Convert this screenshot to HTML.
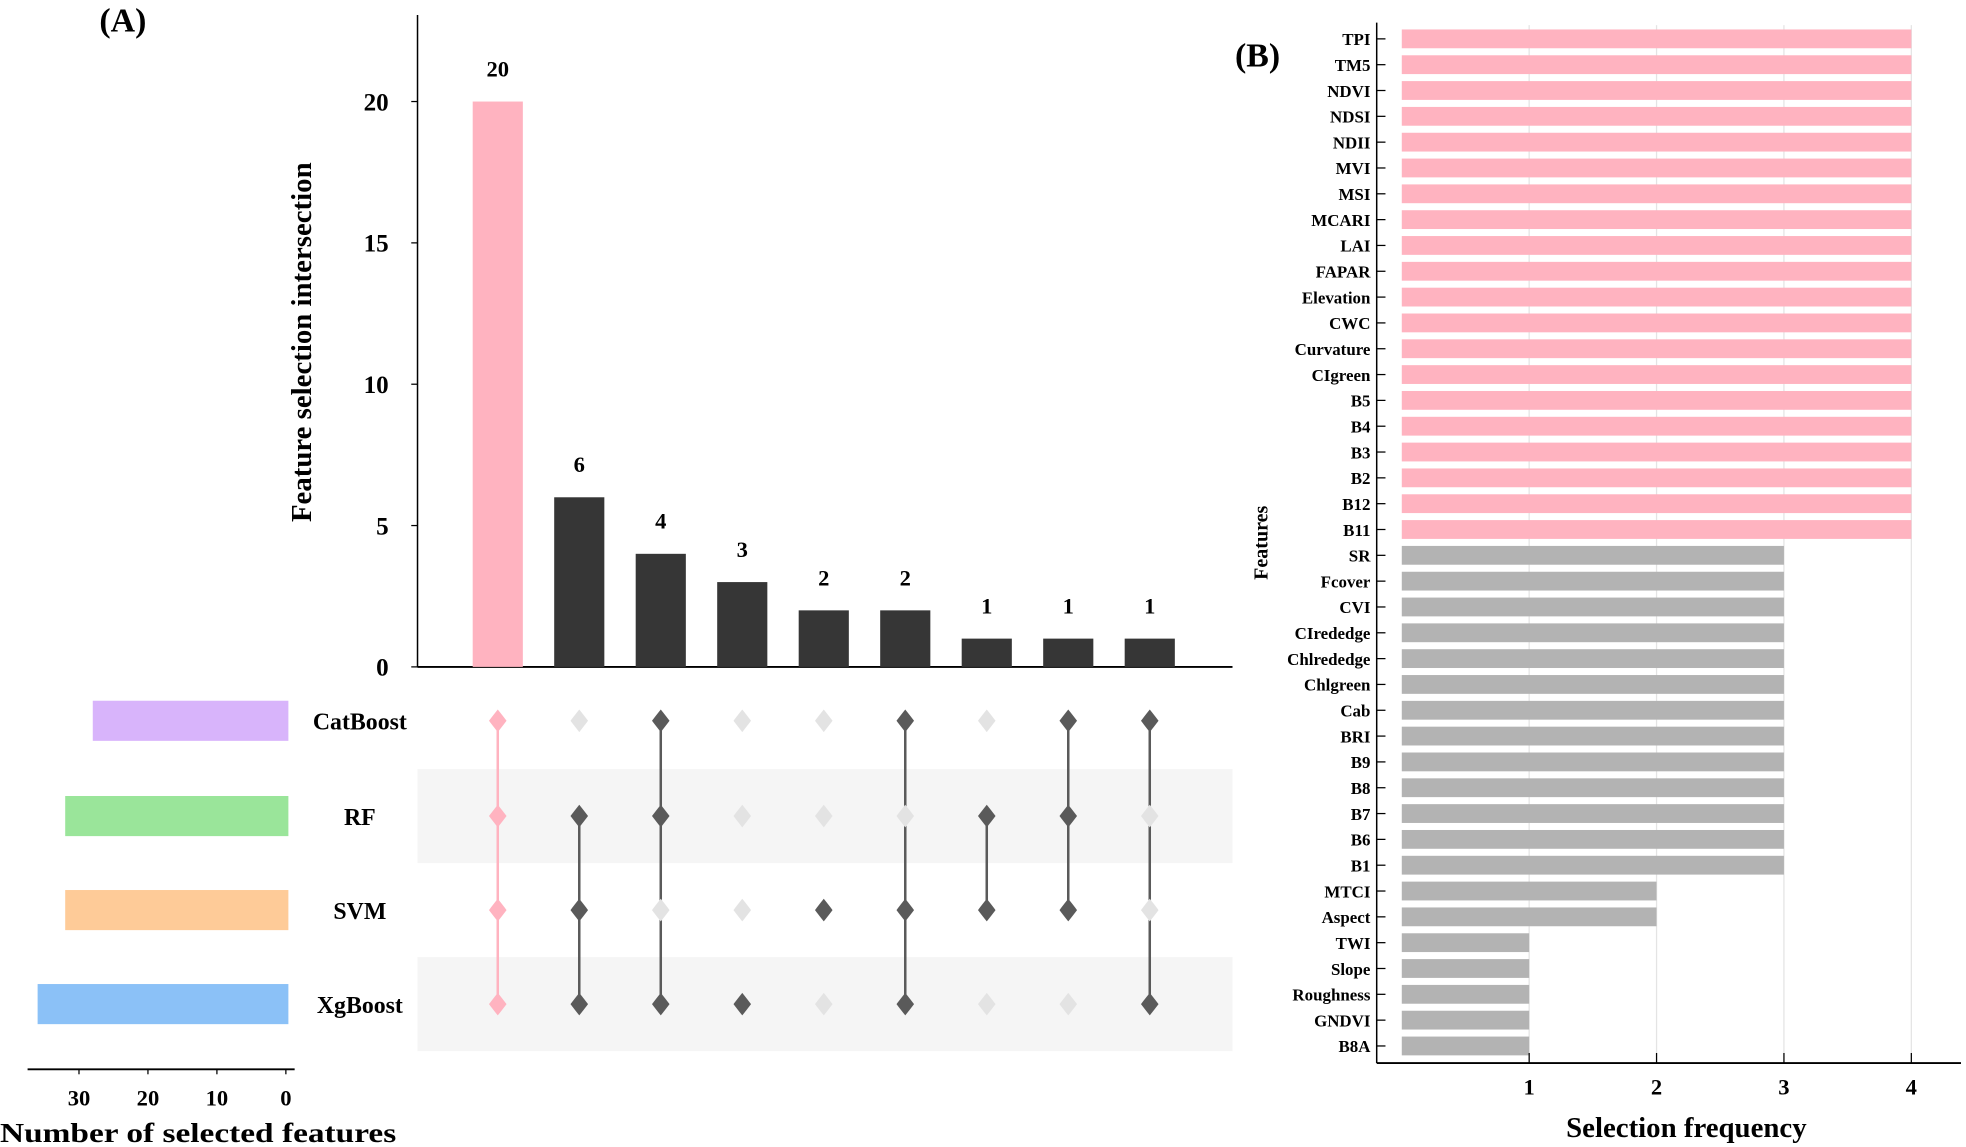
<!DOCTYPE html>
<html><head><meta charset="utf-8"><style>
html,body{margin:0;padding:0;background:#fff;}
svg{display:block;font-family:"Liberation Serif",serif;font-weight:bold;}
</style></head><body>
<svg id="fig" width="1966" height="1147" viewBox="0 0 1568 915" preserveAspectRatio="none" xmlns="http://www.w3.org/2000/svg">
<g id="gA"></g>
<g id="gB"></g>
</svg>
<script>
// Panel A data
const interCounts = [20, 6, 4, 3, 2, 2, 1, 1, 1];
const setNames = ["CatBoost", "RF", "SVM", "XgBoost"];
const setSizes = [28, 32, 32, 36];
const membership = [
  [1,1,1,1],[0,1,1,1],[1,1,0,1],[0,0,0,1],[0,0,1,0],[1,0,1,1],[0,1,1,0],[1,1,1,0],[1,0,0,1]
];
const yTicksA = [0, 5, 10, 15, 20];
const sizeTicks = [30, 20, 10, 0];
// Panel B data
const features = ["TPI","TM5","NDVI","NDSI","NDII","MVI","MSI","MCARI","LAI","FAPAR","Elevation","CWC","Curvature","CIgreen","B5","B4","B3","B2","B12","B11","SR","Fcover","CVI","CIrededge","Chlrededge","Chlgreen","Cab","BRI","B9","B8","B7","B6","B1","MTCI","Aspect","TWI","Slope","Roughness","GNDVI","B8A"];
const freqs = [4,4,4,4,4,4,4,4,4,4,4,4,4,4,4,4,4,4,4,4,3,3,3,3,3,3,3,3,3,3,3,3,3,2,2,1,1,1,1,1];
const xTicksB = [1, 2, 3, 4];

const NS = "http://www.w3.org/2000/svg";
function mk(parent, tag, attrs, text) {
  const e = document.createElementNS(NS, tag);
  for (const k in attrs) e.setAttribute(k, attrs[k]);
  if (text !== undefined) e.textContent = text;
  parent.appendChild(e);
  return e;
}
const gA = document.getElementById("gA");
const gB = document.getElementById("gB");

// ---------- Panel A ----------
let t = mk(gA, "text", {x: 98, y: 25, "font-size": 27, "text-anchor": "middle"}, "(A)");



const yA = v => 532 - v * 22.55;
const colX = i => 397 + i * 65;
const rowY = [575, 651, 726, 801];

[1, 3].forEach(r => {
  const b = mk(gA, "rect", {x: 333, y: rowY[r] - 37.5, width: 650, height: 75, fill: "#f5f5f5"});
  
  
});

let ax = mk(gA, "line", {x1: 333, y1: 12, x2: 333, y2: 532, stroke: "#000", "stroke-width": 1.2});


yTicksA.forEach(v => {
  const tk = mk(gA, "line", {x1: 328, y1: yA(v), x2: 333, y2: yA(v), stroke: "#000", "stroke-width": 1});
  
  
  const tl = mk(gA, "text", {x: 310, y: yA(v) + 7, "font-size": 20, "text-anchor": "end"}, String(v));
  
  
});
let xa = mk(gA, "line", {x1: 333, y1: 532, x2: 983, y2: 532, stroke: "#000", "stroke-width": 1.5});


let yt = mk(gA, "text", {x: 0, y: 0, "font-size": 23, "text-anchor": "middle", transform: "translate(248,273) rotate(-90)"}, "Feature selection intersection");



interCounts.forEach((v, i) => {
  const col = i === 0 ? "#ffb3c0" : "#363636";
  const r = mk(gA, "rect", {x: colX(i) - 20, y: yA(v), width: 40, height: 532 - yA(v), fill: col});
  
  
  const l = mk(gA, "text", {x: colX(i), y: yA(v) - 20, "font-size": 18, "text-anchor": "middle"}, String(v));
  
  
});

membership.forEach((m, i) => {
  const col = i === 0 ? "#ffb3c0" : "#5a5a5a";
  const on = [];
  m.forEach((f, r) => { if (f) on.push(r); });
  if (on.length > 1) {
    const ln = mk(gA, "line", {x1: colX(i), y1: rowY[on[0]], x2: colX(i), y2: rowY[on[on.length - 1]], stroke: col, "stroke-width": 2});
    
    
  }
  m.forEach((f, r) => {
    const x = colX(i), y = rowY[r];
    const d = mk(gA, "path", {d: `M${x} ${y-9} Q${x+4} ${y-4} ${x+7} ${y} Q${x+4} ${y+4} ${x} ${y+9} Q${x-4} ${y+4} ${x-7} ${y} Q${x-4} ${y-4} ${x} ${y-9} Z`, fill: f ? col : "#e3e3e3"});
    
    
  });
});

const xS = v => 228 - v * 5.5;
const setCols = ["#d8b4fb", "#9ae59a", "#fecb98", "#8bc1f7"];
setSizes.forEach((v, r) => {
  const b = mk(gA, "rect", {x: xS(v), y: rowY[r] - 16, width: 230 - xS(v), height: 32, fill: setCols[r]});
  
  
  const l = mk(gA, "text", {x: 287, y: rowY[r] + 7, "font-size": 19, "text-anchor": "middle"}, setNames[r]);
  
  
});
let sa = mk(gA, "line", {x1: 22, y1: 853, x2: 235, y2: 853, stroke: "#000", "stroke-width": 1.5});


sizeTicks.forEach(v => {
  const tk = mk(gA, "line", {x1: xS(v), y1: 853, x2: xS(v), y2: 857, stroke: "#000", "stroke-width": 1});
  
  
  const tl = mk(gA, "text", {x: xS(v), y: 882, "font-size": 18, "text-anchor": "middle"}, String(v));
  
  
});
let st = mk(gA, "text", {x: 158, y: 911, "font-size": 22, "text-anchor": "middle", textLength: 316, lengthAdjust: "spacingAndGlyphs"}, "Number of selected features");



// ---------- Panel B ----------
t = mk(gB, "text", {x: 1003, y: 53, "font-size": 27, "text-anchor": "middle"}, "(B)");


const xB = v => 1118 + v * 101.6;
const yB = i => 31 + i * 20.6;
xTicksB.forEach(v => {
  const g = mk(gB, "line", {x1: xB(v), y1: 20, x2: xB(v), y2: 848, stroke: "#e4e4e4", "stroke-width": 1});
  
  
});
features.forEach((f, i) => {
  const r = mk(gB, "rect", {x: xB(0), y: yB(i) - 7.5, width: xB(freqs[i]) - xB(0), height: 15, fill: freqs[i] === 4 ? "#ffb3c0" : "#b3b3b3"});
  
  
  const tk = mk(gB, "line", {x1: 1098, y1: yB(i), x2: 1105, y2: yB(i), stroke: "#000", "stroke-width": 1});
  
  
  const l = mk(gB, "text", {x: 1093, y: yB(i) + 5, "font-size": 13.5, "text-anchor": "end"}, f);
  
  
});
let by = mk(gB, "line", {x1: 1098, y1: 18, x2: 1098, y2: 848, stroke: "#000", "stroke-width": 1.2});


let bx = mk(gB, "line", {x1: 1098, y1: 848, x2: 1564, y2: 848, stroke: "#000", "stroke-width": 1.5});


xTicksB.forEach(v => {
  const tk = mk(gB, "line", {x1: xB(v), y1: 840, x2: xB(v), y2: 848, stroke: "#000", "stroke-width": 1});
  
  
  const tl = mk(gB, "text", {x: xB(v), y: 873, "font-size": 18, "text-anchor": "middle"}, String(v));
  
  
});
let bt = mk(gB, "text", {x: 1345, y: 907, "font-size": 23, "text-anchor": "middle"}, "Selection frequency");


let fy = mk(gB, "text", {x: 0, y: 0, "font-size": 16, "text-anchor": "middle", transform: "translate(1011,433) rotate(-90)"}, "Features");


</script>
</body></html>
